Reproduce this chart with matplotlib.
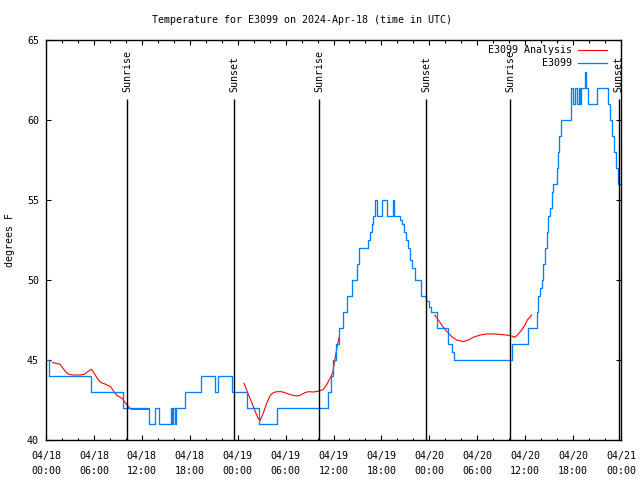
import matplotlib
matplotlib.use("Agg")
import matplotlib.pyplot as plt
import matplotlib.dates as mdates
import pandas as pd

# observed station temperature (step data), hours after 2024-04-18 00:00 UTC
obs_hours = [0, 0.4, 5.6, 9.6, 12.9, 13.7, 14.1, 15.65, 15.82, 15.95, 16.15, 16.28,
             17.45, 19.45, 21.2, 21.5, 23.35, 25.2, 26.7, 28.9,
             35.35, 35.65, 35.98, 36.31, 36.69, 37.23, 37.73, 38.28, 38.9, 39.24,
             40.36, 40.57, 40.78, 40.99, 41.24, 41.49, 42.03, 42.66, 43.41, 43.58,
             44.33, 44.54, 44.83, 45.08, 45.29, 45.58, 45.83, 46.2, 46.9,
             47.6, 47.9, 48.2, 48.9, 50.3, 50.8, 51.1, 58.3, 60.3,
             61.44, 61.65, 61.86, 62.07, 62.28, 62.48, 62.7, 62.9, 63.1, 63.32, 63.5,
             63.95, 64.07, 64.2, 64.45, 65.7, 66.0, 66.2, 66.45, 66.7, 66.87, 67.05,
             67.45, 67.65, 67.85, 68.95, 70.33, 70.62, 70.87, 71.12, 71.37, 71.58, 71.9]
obs_temp = [45, 44, 43, 42, 41, 42, 41, 42, 41, 42, 41, 42,
            43, 44, 43, 44, 43, 42, 41, 42,
            43, 44, 45, 46, 47, 48, 49, 50, 51, 52,
            52.5, 53, 53.5, 54, 55, 54, 55, 54, 55, 54,
            53.75, 53.5, 53, 52.5, 52, 51.25, 50.75, 50, 49,
            48.7, 48.3, 48, 47, 46, 45.5, 45, 46, 47,
            48, 49, 49.5, 50, 51, 52, 53, 54, 54.5, 55.5, 56,
            57, 58, 59, 60, 62, 61, 62, 61, 62, 61, 62,
            63, 62, 61, 62, 61, 60, 59, 58, 57, 56, 56]

# analysis temperature, three separate runs
ana1_hours = [0.8, 1.2, 1.75, 2.04, 2.46, 2.88, 3.5, 4.13, 4.76, 5.17, 5.67, 6.0, 6.43,
              6.85, 7.47, 8.1, 8.5, 8.93, 9.55, 9.98, 10.4, 10.7, 11.5, 12.8]
ana1_temp = [44.85, 44.8, 44.73, 44.54, 44.27, 44.1, 44.06, 44.06, 44.1, 44.25, 44.42,
             44.2, 43.85, 43.6, 43.48, 43.33, 43.02, 42.77, 42.6, 42.29, 42.04, 41.92,
             41.92, 41.92]
ana2_hours = [24.8, 25.2, 25.63, 26.05, 26.46, 26.8, 27.2, 27.63, 28.05, 28.47, 28.89,
              29.5, 30.14, 30.77, 31.4, 31.8, 32.43, 32.85, 33.5, 34.1, 34.7, 35.14,
              35.56, 35.9, 36.1, 36.3, 36.5, 36.69]
ana2_temp = [43.54, 43.02, 42.5, 41.98, 41.46, 41.2, 41.67, 42.29, 42.77, 42.96, 43.02,
             43.02, 42.92, 42.81, 42.75, 42.79, 42.96, 43.02, 43.0, 43.05, 43.15, 43.45,
             43.85, 44.2, 44.8, 45.4, 45.94, 46.4]
ana3_hours = [48.7, 49.13, 49.55, 49.96, 50.4, 50.8, 51.43, 52.26, 52.9, 53.5, 54.35,
              55.2, 56.0, 56.85, 57.7, 58.3, 58.73, 59.15, 59.56, 59.98, 60.27, 60.6, 60.8]
ana3_temp = [47.8, 47.5, 47.19, 46.92, 46.67, 46.46, 46.25, 46.15, 46.25, 46.42, 46.56,
             46.63, 46.63, 46.6, 46.56, 46.5, 46.42, 46.63, 46.88, 47.19, 47.5, 47.67, 47.81]

sunrise_hours = [10.18, 34.2, 58.15]
sunset_hours = [23.58, 47.63, 71.7]

start = pd.Timestamp("2024-04-18 00:00")


def to_time(hours):
    return start + pd.to_timedelta(hours, unit="h")


plt.rcParams["font.family"] = "DejaVu Sans Mono"
plt.rcParams["font.size"] = 7.2

fig = plt.figure(figsize=(6.4, 4.8), dpi=100)
ax = fig.add_axes([46 / 640, 40 / 480, 575 / 640, 400 / 480])

ax.plot(to_time(ana1_hours), ana1_temp, color="#ff0000", lw=0.8, label="E3099 Analysis")
ax.plot(to_time(ana2_hours), ana2_temp, color="#ff0000", lw=0.8)
ax.plot(to_time(ana3_hours), ana3_temp, color="#ff0000", lw=0.8)
ax.plot(to_time(obs_hours), obs_temp, color="#0080ff", lw=0.95, drawstyle="steps-post",
        label="         E3099")

for h in sunrise_hours:
    ax.vlines(to_time([h]), 40, 61.3, color="black", lw=1.0)
    ax.text(to_time([h])[0], 61.75, "Sunrise", rotation=90, ha="center", va="bottom")
for h in sunset_hours:
    ax.vlines(to_time([h]), 40, 61.3, color="black", lw=1.0)
    ax.text(to_time([h])[0], 61.75, "Sunset", rotation=90, ha="center", va="bottom")

ax.set_xlim(start, start + pd.Timedelta(hours=72))
ax.set_ylim(40, 65)
ax.set_yticks([40, 45, 50, 55, 60, 65])
ax.xaxis.set_major_locator(mdates.HourLocator(byhour=[0, 6, 12, 18]))
ax.xaxis.set_minor_locator(mdates.HourLocator(interval=2))
ax.xaxis.set_major_formatter(mdates.DateFormatter("%m/%d\n%H:%M"))
ax.tick_params(which="both", direction="in", top=True, right=True, width=0.8)
ax.tick_params(which="major", length=3.3)
ax.tick_params(which="minor", length=1.8)
ax.tick_params(axis="x", pad=8)
ax.tick_params(axis="y", pad=5)
for lab in ax.get_xticklabels():
    lab.set_linespacing(1.55)
for s in ax.spines.values():
    s.set_linewidth(1.0)

ax.legend(loc="upper right", bbox_to_anchor=(0.985, 1.0), frameon=False,
          markerfirst=False, handlelength=2.9, handletextpad=0.6, labelspacing=0.28,
          borderpad=0.55, borderaxespad=0.0, fontsize=7.2)

fig.text(302 / 640, 1 - 20 / 480, "Temperature for E3099 on 2024-Apr-18 (time in UTC)",
         ha="center", va="center")
fig.text(10 / 640, 0.5, "degrees F", rotation=90, ha="center", va="center")

fig.savefig("out.png", dpi=100)
